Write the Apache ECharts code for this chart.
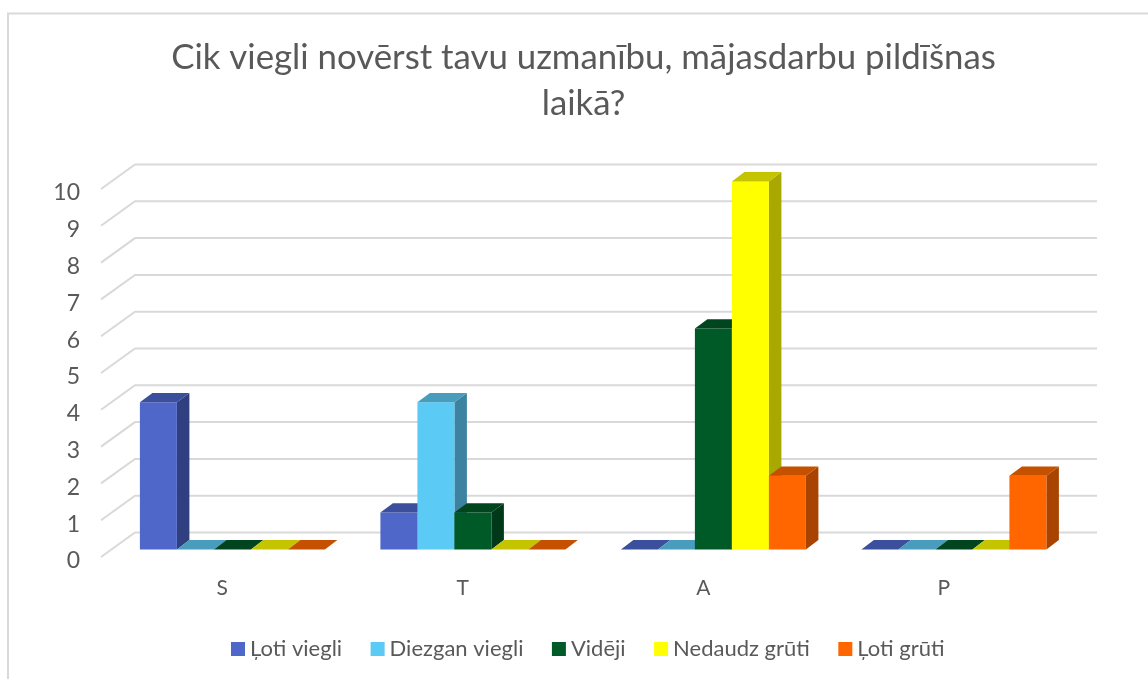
<!DOCTYPE html>
<html><head><meta charset="utf-8">
<style>html,body{margin:0;padding:0;background:#fff}#c{width:1148px;height:679px}</style>
<script src="https://cdn.jsdelivr.net/npm/echarts@6/dist/echarts.min.js"></script>
</head><body><div id="c"></div>
<script>
const categories = ['S','T','A','P'];
const seriesNames = ['Ļoti viegli','Diezgan viegli','Vidēji','Nedaudz grūti','Ļoti grūti'];
const sLotiViegli = [4,1,0,0];
const sDiezgan = [0,4,0,0];
const sVideji = [0,1,6,0];
const sNedaudz = [0,0,10,0];
const sLotiGruti = [0,0,2,2];
const valueTicks = [0,1,2,3,4,5,6,7,8,9,10];
const allValues = [sLotiViegli,sDiezgan,sVideji,sNedaudz,sLotiGruti];
const frontColors = ['#4F67C9','#5BCBF5','#005A28','#FFFF00','#FF6600'];
const topColors = ['#3B4F9C','#479DBB','#00451E','#C4C400','#C45000'];
const sideColors = ['#2F3F80','#3B83A0','#00381A','#A8A800','#A84400'];
const FONT = 'Lato';
const GREY = '#595959';
const depthX = 34, depthY = 24.5, barDX = 12.5, barDY = 9.3, barW = 37;

function wallItem(params, api){
  const v = api.value(1);
  const band = api.size([1,0])[0];
  const p0 = api.coord([0, v]);
  const pN = api.coord([categories.length-1, v]);
  const x0 = p0[0]-band/2, x1 = pN[0]+band/2, y = p0[1];
  return {type:'polyline', silent:true,
    shape:{points:[[x0,y],[x0+depthX,y-depthY],[x1+depthX,y-depthY]]},
    style:{stroke:'#D9D9D9',lineWidth:2,fill:null,lineJoin:'miter'}};
}
function barItem(si){
  return function(params, api){
    const c = api.coord([api.value(0), api.value(1)]);
    const base = api.coord([api.value(0), 0]);
    const ox = (depthX-barDX)/2, oy = (depthY-barDY)/2;
    const left = c[0] + ox + (si-2.5)*barW + 0.4;
    const right = left + barW;
    const top = c[1]-oy, bot = base[1]-oy;
    const children = [];
    if(bot-top>0.5){
      children.push({type:'polygon',shape:{points:[[right,top],[right+barDX,top-barDY],[right+barDX,bot-barDY],[right,bot]]},style:{fill:sideColors[si]}});
      children.push({type:'rect',shape:{x:left,y:top,width:barW,height:bot-top},style:{fill:frontColors[si]}});
    }
    children.push({type:'polygon',shape:{points:[[left,top],[left+barDX,top-barDY],[right+barDX,top-barDY],[right,top]]},style:{fill:topColors[si]}});
    return {type:'group',children};
  };
}
const chart = echarts.init(document.getElementById('c'),null,{renderer:'canvas'});
chart.setOption({
  animation:false,
  backgroundColor:'#fff',
  textStyle:{fontFamily:FONT},
  title:{text:'Cik viegli novērst tavu uzmanību, mājasdarbu pildīšnas\nlaikā?',left:578.5,top:30,textAlign:'center',
    textStyle:{fontFamily:FONT,fontSize:34.8,fontWeight:'normal',color:GREY,lineHeight:46}},
  grid:{left:101,top:189,width:962,height:368,containLabel:false},
  xAxis:{type:'category',data:categories,axisLine:{show:false},axisTick:{show:false},splitLine:{show:false},
    axisLabel:{color:GREY,fontSize:21,fontFamily:FONT,margin:21,padding:[0,0,0,2]}},
  yAxis:{type:'value',min:0,max:10,interval:1,axisLine:{show:false},axisTick:{show:false},splitLine:{show:false},
    axisLabel:{color:GREY,fontSize:23,fontFamily:FONT,margin:21,verticalAlign:'top',padding:[-7.5,0,0,0]}},
  legend:{left:226,top:633,itemWidth:14,itemHeight:14,itemGap:28.5,icon:'rect',
    data:seriesNames,textStyle:{color:GREY,fontSize:22,fontFamily:FONT,padding:[0,0,0,0]}},
  graphic:[{type:'polyline',silent:true,z:-1,shape:{points:[[8,690],[8,13.5],[1150,13.5]]},style:{stroke:'#D9D9D9',lineWidth:2,fill:null}}],
  series:[
    {type:'custom',name:'walls',coordinateSystem:'cartesian2d',renderItem:wallItem,silent:true,z:1,
      data:valueTicks.map(v=>[0,v]),encode:{x:0,y:1}},
    ...seriesNames.map((n,si)=>({type:'custom',name:n,coordinateSystem:'cartesian2d',z:2,
      itemStyle:{color:frontColors[si]},renderItem:barItem(si),
      data:allValues[si].map((v,i)=>[i,v]),encode:{x:0,y:1}}))
  ]
});
</script></body></html>
